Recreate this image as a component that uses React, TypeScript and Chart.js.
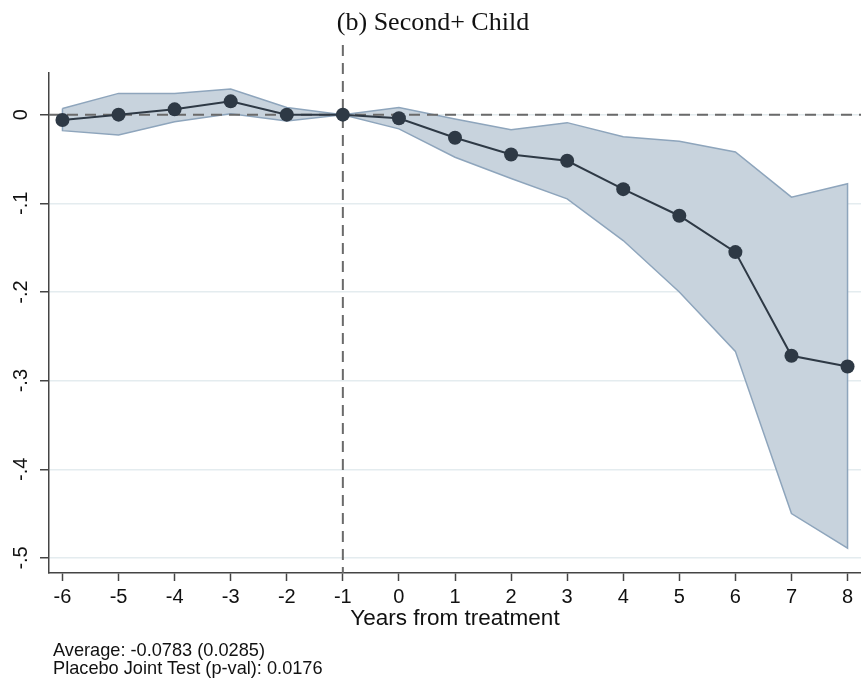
import React, { useEffect, useRef } from "react";
import { Chart, registerables } from "chart.js";

Chart.register(...registerables);

// Event-study estimates by years relative to treatment
const years = [-6, -5, -4, -3, -2, -1, 0, 1, 2, 3, 4, 5, 6, 7, 8];
const estimates = [-0.006, 0.0, 0.006, 0.015, 0.0, 0.0, -0.004, -0.026, -0.045, -0.052, -0.084, -0.114, -0.155, -0.272, -0.284];
const ciUpper = [0.007, 0.024, 0.024, 0.029, 0.008, 0.0, 0.008, -0.005, -0.017, -0.009, -0.025, -0.030, -0.042, -0.093, -0.078];
const ciLower = [-0.018, -0.023, -0.008, 0.001, -0.007, 0.0, -0.016, -0.048, -0.072, -0.095, -0.142, -0.200, -0.267, -0.450, -0.489];

const xTickValues = years;
const yTickValues = [0, -0.1, -0.2, -0.3, -0.4, -0.5];
const yTickLabels = ["0", "-.1", "-.2", "-.3", "-.4", "-.5"];

const chartTitle = "(b) Second+ Child";
const xAxisTitle = "Years from treatment";
const noteLines = ["Average: -0.0783 (0.0285)", "Placebo Joint Test (p-val): 0.0176"];

const treatmentYear = -1;
const zeroLevel = 0;

const SANS = "'Liberation Sans', Arial, Helvetica, sans-serif";
const AXIS_COLOR = "#444444";
const TEXT_COLOR = "#111111";

// Dashed reference lines at y = 0 and at the year before treatment
const refLinesPlugin = {
  id: "refLines",
  beforeDatasetDraw(chart: any, args: any) {
    if (args.index !== 0) return;
    const { ctx, chartArea, scales } = chart;
    const x = scales.x.getPixelForValue(treatmentYear);
    const y = scales.y.getPixelForValue(zeroLevel);
    ctx.save();
    ctx.strokeStyle = "#6a6a6a";
    ctx.lineWidth = 2;
    ctx.setLineDash([11, 7]);
    ctx.beginPath();
    ctx.moveTo(chartArea.left, y);
    ctx.lineTo(chartArea.right, y);
    ctx.stroke();
    ctx.beginPath();
    ctx.moveTo(x, chartArea.top - 28);
    ctx.lineTo(x, chartArea.bottom);
    ctx.stroke();
    ctx.restore();
  },
};

export default function App() {
  const canvasRef = useRef<HTMLCanvasElement | null>(null);

  useEffect(() => {
    document.body.style.margin = "0";
    const canvas = canvasRef.current;
    if (!canvas) return;

    const estimatePoints = years.map((x, i) => ({ x, y: estimates[i] }));
    // Confidence band as a closed polygon: upper edge left→right, lower edge right→left
    const bandPoints = [
      ...years.map((x, i) => ({ x, y: ciUpper[i] })),
      ...years.map((x, i) => ({ x, y: ciLower[i] })).reverse(),
    ];
    bandPoints.push({ ...bandPoints[0] });

    const chart = new Chart(canvas, {
      type: "line",
      data: {
        datasets: [
          {
            data: estimatePoints,
            borderColor: "#2e3945",
            borderWidth: 2,
            pointRadius: 7,
            pointBackgroundColor: "#2e3945",
            pointBorderWidth: 0,
            tension: 0,
            fill: false,
          },
          {
            data: bandPoints,
            borderColor: "#8ea5bc",
            borderWidth: 1.5,
            backgroundColor: "#c8d3dd",
            pointRadius: 0,
            tension: 0,
            fill: "shape",
          },
        ],
      },
      options: {
        animation: false,
        responsive: false,
        devicePixelRatio: 1,
        layout: { autoPadding: false, padding: { top: 73, left: 0, right: 0, bottom: 0 } },
        plugins: {
          legend: { display: false },
          tooltip: { enabled: false },
          title: { display: false },
        },
        scales: {
          x: {
            type: "linear",
            min: -6.24,
            max: 8.24,
            afterBuildTicks: (s: any) => {
              s.ticks = xTickValues.map((v) => ({ value: v }));
            },
            afterFit: (s: any) => {
              s.height = 106;
            },
            grid: {
              drawOnChartArea: false,
              tickLength: 8,
              tickColor: AXIS_COLOR,
              tickWidth: 1.5,
            },
            border: { display: true, color: AXIS_COLOR, width: 1.5 },
            ticks: {
              color: TEXT_COLOR,
              font: { family: SANS, size: 20 },
              padding: 4,
              maxRotation: 0,
              autoSkip: false,
              callback: (v: any) => String(v),
            },
            title: {
              display: true,
              text: xAxisTitle,
              color: TEXT_COLOR,
              font: { family: SANS, size: 22.5, lineHeight: 1 },
              padding: { top: 0, bottom: 49 },
            },
          },
          y: {
            type: "linear",
            min: -0.517,
            max: 0.047,
            afterBuildTicks: (s: any) => {
              s.ticks = yTickValues.map((v) => ({ value: v }));
            },
            afterFit: (s: any) => {
              s.width = 49;
            },
            grid: {
              color: "#e4ecef",
              lineWidth: 1.5,
              tickLength: 9,
              tickColor: AXIS_COLOR,
              tickWidth: 1.5,
            },
            border: { display: true, color: AXIS_COLOR, width: 1.5 },
            ticks: {
              color: TEXT_COLOR,
              font: { family: SANS, size: 20 },
              minRotation: 90,
              maxRotation: 90,
              crossAlign: "center",
              padding: 7,
              autoSkip: false,
              callback: (_v: any, i: number) => yTickLabels[i],
            },
          },
        },
      },
      plugins: [refLinesPlugin],
    } as any);

    return () => chart.destroy();
  }, []);

  return (
    <div style={{ position: "relative", width: 861, height: 679, background: "#ffffff" }}>
      <canvas ref={canvasRef} width={861} height={679} style={{ display: "block" }} />
      <div
        style={{
          position: "absolute",
          top: 7,
          left: 0,
          width: 866,
          textAlign: "center",
          fontFamily: "'Liberation Serif', 'Times New Roman', serif",
          fontSize: 26,
          lineHeight: "30px",
          color: TEXT_COLOR,
        }}
      >
        {chartTitle}
      </div>
      <div
        style={{
          position: "absolute",
          top: 641,
          left: 53,
          fontFamily: SANS,
          fontSize: 18.2,
          lineHeight: "18px",
          color: TEXT_COLOR,
          whiteSpace: "pre",
        }}
      >
        {noteLines.map((t) => (
          <div key={t}>{t}</div>
        ))}
      </div>
    </div>
  );
}
